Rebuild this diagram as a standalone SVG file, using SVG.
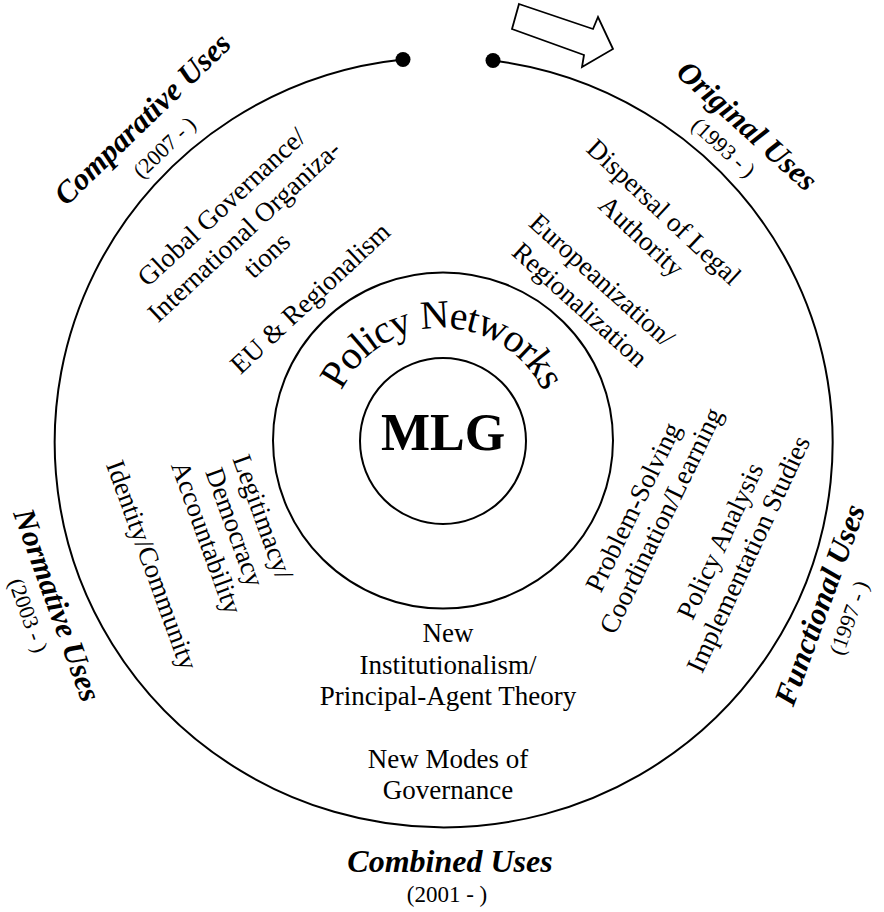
<svg xmlns="http://www.w3.org/2000/svg" xmlns:xlink="http://www.w3.org/1999/xlink" width="884" height="912" viewBox="0 0 884 912">
<style>
text{font-family:"Liberation Serif","Times New Roman",serif;fill:#000;text-anchor:middle}
.t{font-size:27px}
.h{font-size:31px;font-weight:bold;font-style:italic}
.y{font-size:22px}
.ln{fill:none;stroke:#000;stroke-width:2}
</style>
<defs>
<path id="pnArc" d="M 330 440 A 112 112 0 0 1 554 440"/>
</defs>
<rect width="884" height="912" fill="#fff"/>
<g id="connectors">
<path class="ln" d="M 403 59.5 A 389 385 0 1 0 493 60.5"/>
<circle cx="403" cy="59.5" r="7.5" fill="#000"/>
<circle cx="493" cy="60.5" r="7.5" fill="#000"/>
<polygon points="519,4 593,29 598,17 613,49 582,67 584,55 512,29" fill="#fff" stroke="#000" stroke-width="1.8" stroke-linejoin="miter"/>
</g>
<g id="policy-networks">
<ellipse class="ln" cx="443" cy="440.5" rx="170" ry="168"/>
<text style="font-size:40px;letter-spacing:-1.2px"><textPath xlink:href="#pnArc" href="#pnArc" startOffset="50%">Policy Networks</textPath></text>
</g>
<g id="mlg">
<circle class="ln" cx="443" cy="441" r="83"/>
<text x="443" y="450" style="font-size:52px;font-weight:bold">MLG</text>
</g>
<g id="comparative-uses" transform="translate(142.5,119) rotate(-44)">
<text class="h" x="0" y="10">Comparative Uses</text>
<text class="y" x="-4" y="43">(2007 - )</text>
</g>
<g id="original-uses" transform="translate(747,126) rotate(42)">
<text class="h" x="0" y="10">Original Uses</text>
<text class="y" x="-3" y="39">(1993 - )</text>
</g>
<g id="functional-uses" transform="translate(820,605) rotate(-70)">
<text class="h" x="0" y="10">Functional Uses</text>
<text class="y" x="-2" y="39">(1997 - )</text>
</g>
<g id="normative-uses" transform="translate(57,605) rotate(70)">
<text class="h" x="0" y="10">Normative Uses</text>
<text class="y" x="0" y="38">(2003 - )</text>
</g>
<g id="combined-uses">
<text class="h" x="450" y="872" style="font-size:32px">Combined Uses</text>
<text class="y" x="447" y="902" style="font-size:23px">(2001 - )</text>
</g>
<g id="global-governance" transform="translate(244,231) rotate(-43)">
<text class="t" x="0" y="-24">Global Governance/</text>
<text class="t" x="0" y="9">International Organiza-</text>
<text class="t" x="0" y="42">tions</text>
</g>
<g id="eu-regionalism" transform="translate(310,298) rotate(-43)">
<text class="t" x="0" y="9">EU &amp; Regionalism</text>
</g>
<g id="dispersal" transform="translate(664,212) rotate(43)">
<text class="t" x="0" y="9">Dispersal of Legal</text>
<text class="t" x="0" y="42">Authority</text>
</g>
<g id="europeanization" transform="translate(602,280) rotate(42)">
<text class="t" x="0" y="9">Europeanization/</text>
<text class="t" x="0" y="42">Regionalization</text>
</g>
<g id="problem-solving" transform="translate(633,507) rotate(-64)">
<text class="t" x="0" y="9">Problem-Solving</text>
<text class="t" x="0" y="40">Coordination/Learning</text>
</g>
<g id="policy-analysis" transform="translate(720,541) rotate(-65)">
<text class="t" x="0" y="9">Policy Analysis</text>
<text class="t" x="0" y="40">Implementation Studies</text>
</g>
<g id="legitimacy" transform="translate(263,517) rotate(70)">
<text class="t" x="0" y="9">Legitimacy/</text>
<text class="t" x="0" y="39">Democracy</text>
<text class="t" x="0" y="69">Accountability</text>
</g>
<g id="identity" transform="translate(152,565) rotate(70)">
<text class="t" x="0" y="9">Identity/Community</text>
</g>
<g id="new-institutionalism">
<text class="t" x="448" y="642">New</text>
<text class="t" x="448" y="674">Institutionalism/</text>
<text class="t" x="448" y="705">Principal-Agent Theory</text>
</g>
<g id="new-modes">
<text class="t" x="448" y="768">New Modes of</text>
<text class="t" x="448" y="799">Governance</text>
</g>
</svg>
